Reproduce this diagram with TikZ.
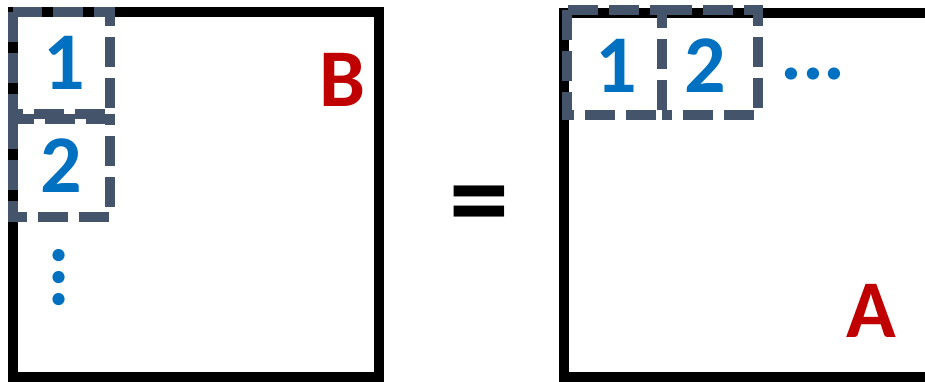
\documentclass[tikz,border=0pt]{standalone}
\usepackage{fontspec}
\setmainfont{Carlito}
\definecolor{frameblack}{HTML}{000000}
\definecolor{tileslate}{HTML}{44546A}
\definecolor{numblue}{HTML}{0070C0}
\definecolor{labelred}{HTML}{C00000}
\begin{document}
\begin{tikzpicture}[x=1pt,y=-1pt,
  matrixframe/.style={draw=frameblack,line width=10pt},
  tile/.style={draw=tileslate,line width=10pt,dash pattern=on 30pt off 11pt},
  idx/.style={text=numblue,font=\fontsize{82}{82}\bfseries\selectfont,inner sep=0pt,anchor=base},
  mname/.style={text=labelred,font=\fontsize{82}{82}\bfseries\selectfont,inner sep=0pt,anchor=base}]
\useasboundingbox (0,0) rectangle (925,382);
% matrices B and A
\draw[matrixframe] (13,12) rectangle (379,377);
\draw[matrixframe] (564,13) rectangle (940,377);
% row tiles of B
\draw[tile] (13,12) rectangle (110,114);
\draw[tile] (13,119) rectangle (110,217);
% column tiles of A (the second one shares its left edge with the first)
\draw[tile] (567,10) rectangle (662,115);
\draw[tile] (662,10) -- (758,10) -- (758,115) -- (662,115);
% labels
\node[idx] (b1) at (64,90) {1};
\node[idx] (b2) at (61,193) {2};
\node[idx,anchor=center,rotate=90] (bdots) at (59,277.5) {...};
\node[idx] (a1) at (616,93) {1};
\node[idx] (a2) at (705,93) {2};
\node[idx] (adots) at (813,80) {...};
\node[mname] (mb) at (342,107) {B};
\node[mname] (ma) at (871,337) {A};
\node[text=black,font=\fontsize{120}{120}\bfseries\selectfont,inner sep=0pt] (eq) at (479.5,213) {=};
\end{tikzpicture}
\end{document}
